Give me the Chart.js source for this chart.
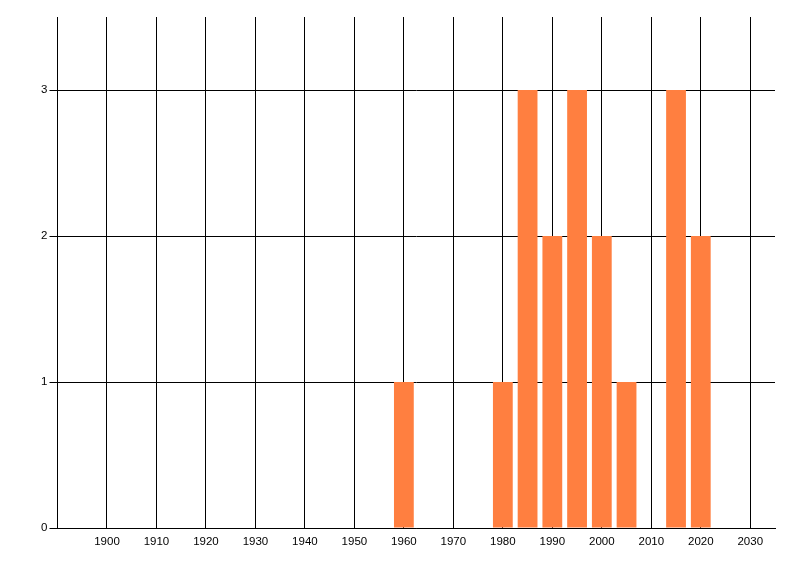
<!DOCTYPE html>
<html>
<head>
<meta charset="utf-8">
<script src="https://cdn.jsdelivr.net/npm/chart.js@4.4.0/dist/chart.umd.min.js"></script>
<style>
  html, body { margin: 0; padding: 0; background: #fff; }
  #wrap { width: 800px; height: 576px; }
</style>
</head>
<body>
<div id="wrap"><canvas id="histcanvas"></canvas></div>
<script>
// years (bar centres) and counts
var years  = [1960, 1980, 1985, 1990, 1995, 2000, 2005, 2015, 2020];
var counts = [1, 1, 3, 2, 3, 2, 1, 3, 2];

// tick labels
var xTicks = [1900, 1910, 1920, 1930, 1940, 1950, 1960, 1970, 1980, 1990, 2000, 2010, 2020, 2030];
var yTicks = [0, 1, 2, 3];

var xMin = 1890, xMax = 2035;
var yMin = 0, yMax = 3.5;

var points = years.map(function (y, i) { return { x: y, y: counts[i] }; });

var ctx = document.getElementById("histcanvas").getContext('2d');
new Chart(ctx, {
    type: 'bar',
    data: {
        datasets: [{
            data: points,
            backgroundColor: '#ff7f40',
            borderWidth: 0,
            barPercentage: 0.8,
            categoryPercentage: 1.0
        }]
    },
    options: {
        responsive: true,
        maintainAspectRatio: false,
        animation: false,
        layout: { padding: { left: 0, top: 17, right: 25, bottom: 0 } },
        plugins: { legend: { display: false }, tooltip: { enabled: false } },
        scales: {
            x: {
                type: 'linear',
                min: xMin,
                max: xMax,
                offset: false,
                grid: { color: '#000', lineWidth: 1, drawTicks: false, offset: false },
                border: { color: '#000', width: 1 },
                ticks: {
                    color: '#000',
                    padding: 7,
                    maxRotation: 0,
                    autoSkip: false,
                    font: { family: 'Liberation Sans', size: 11.5 },
                    callback: function (v) { return String(v); }
                },
                afterBuildTicks: function (scale) {
                    scale.ticks = xTicks.map(function (v) { return { value: v }; });
                },
                afterFit: function (scale) { scale.height = 48; }
            },
            y: {
                min: yMin,
                max: yMax,
                grid: { color: '#000', lineWidth: 1, tickLength: 8 },
                border: { color: '#000', width: 1 },
                ticks: {
                    color: '#000',
                    padding: 2,
                    font: { family: 'Liberation Sans', size: 11.5 }
                },
                afterBuildTicks: function (scale) {
                    scale.ticks = yTicks.map(function (v) { return { value: v }; });
                },
                afterFit: function (scale) { scale.width = 57.5; }
            }
        }
    }
});
</script>
</body>
</html>
